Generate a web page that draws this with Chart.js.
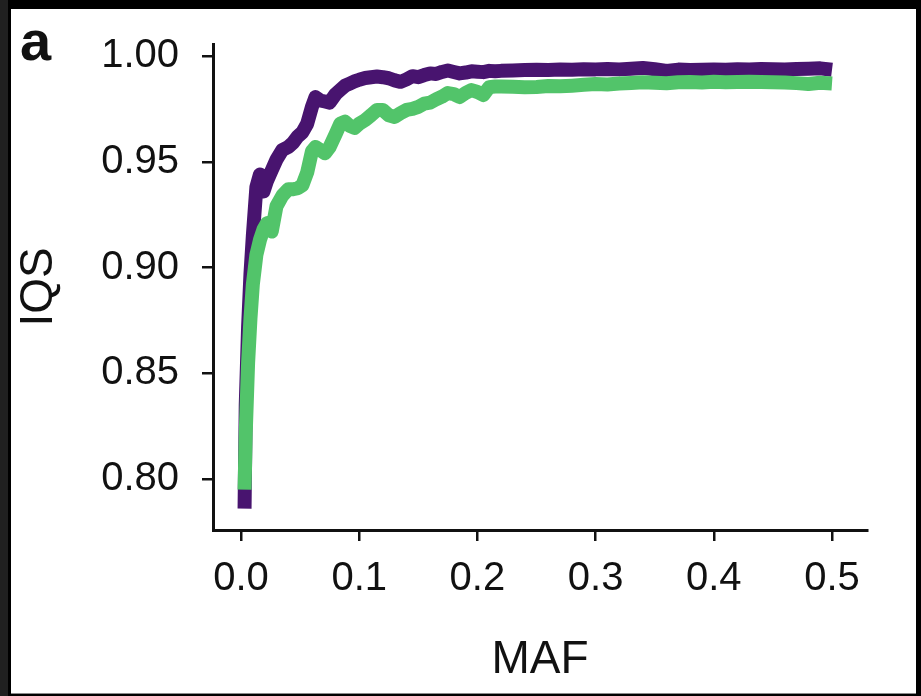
<!DOCTYPE html>
<html>
<head>
<meta charset="utf-8">
<script src="https://cdn.jsdelivr.net/npm/chart.js@4.4.1/dist/chart.umd.min.js"></script>
<style>
  html, body { margin: 0; padding: 0; }
  body { width: 921px; height: 696px; background: #000; position: relative; overflow: hidden; }
  #edge { position: absolute; left: 0; top: 0; width: 8px; height: 696px; background: #202020; }
  #panel { position: absolute; left: 11px; top: 9px; width: 905px; height: 684px; background: #fff; border-bottom: 1px solid #8a8a8a; }
  #panel canvas { position: absolute; left: 0; top: 0; }
  #tag { position: absolute; left: 9px; top: 4px; font: bold 56px "Liberation Sans", Arial, sans-serif; line-height: 1; color: #111; }
</style>
</head>
<body>
<div id="edge"></div>
<div id="panel">
  <canvas id="myChart" width="905" height="684"></canvas>
  <div id="tag">a</div>
</div>
<script>
// minor allele frequency bins
const maf = [
  0.003, 0.004, 0.006, 0.008, 0.010, 0.013, 0.016, 0.019, 0.022, 0.026,
  0.030, 0.035, 0.040, 0.044, 0.048, 0.052, 0.056, 0.060, 0.063, 0.067,
  0.071, 0.075, 0.080, 0.084, 0.088, 0.092, 0.096, 0.100, 0.105, 0.110,
  0.115, 0.120, 0.125, 0.130, 0.135, 0.140, 0.145, 0.150, 0.155, 0.160,
  0.165, 0.170, 0.175, 0.180, 0.185, 0.190, 0.195, 0.200, 0.205, 0.210,
  0.215, 0.220, 0.23, 0.24, 0.25, 0.26, 0.27, 0.28, 0.29, 0.30,
  0.31, 0.32, 0.33, 0.34, 0.35, 0.36, 0.37, 0.38, 0.39, 0.40,
  0.41, 0.42, 0.43, 0.44, 0.45, 0.46, 0.47, 0.48, 0.49, 0.50,
];

// purple curve (upper)
const iqsPurple = [
  0.786, 0.835, 0.872, 0.897, 0.915, 0.938, 0.944, 0.936, 0.941, 0.946,
  0.951, 0.9556, 0.957, 0.959, 0.962, 0.964, 0.968, 0.976, 0.9806, 0.979,
  0.9785, 0.978, 0.982, 0.984, 0.986, 0.987, 0.988, 0.9888, 0.9896, 0.990,
  0.9903, 0.990, 0.9895, 0.9885, 0.9878, 0.989, 0.9905, 0.990, 0.991, 0.9918,
  0.9915, 0.9925, 0.9932, 0.9925, 0.9918, 0.9922, 0.9928, 0.9926, 0.9924, 0.993,
  0.9928, 0.993, 0.9932, 0.9934, 0.9935, 0.9934, 0.9936, 0.9935, 0.9938, 0.9937,
  0.9939, 0.9937, 0.994, 0.9944, 0.9938, 0.993, 0.9936, 0.9934, 0.9935, 0.9937,
  0.9935, 0.9938, 0.9937, 0.9939, 0.9938, 0.9937, 0.9939, 0.994, 0.9942, 0.9935,
];

// green curve (lower)
const iqsGreen = [
  0.795, 0.822, 0.855, 0.876, 0.892, 0.906, 0.913, 0.918, 0.921, 0.917,
  0.929, 0.934, 0.937, 0.937, 0.9375, 0.939, 0.945, 0.955, 0.957, 0.9556,
  0.954, 0.957, 0.963, 0.968, 0.969, 0.967, 0.966, 0.968, 0.9697, 0.972,
  0.9745, 0.9745, 0.972, 0.9712, 0.973, 0.9745, 0.975, 0.976, 0.9775, 0.978,
  0.9795, 0.9808, 0.9825, 0.982, 0.9806, 0.9825, 0.9839, 0.983, 0.9816, 0.9853,
  0.9856, 0.9856, 0.9855, 0.9853, 0.9854, 0.9858, 0.9857, 0.986, 0.9864, 0.9868,
  0.9866, 0.987, 0.9873, 0.9876, 0.9874, 0.9871, 0.9876, 0.9877, 0.9875, 0.9878,
  0.9876, 0.9877, 0.9879, 0.9877, 0.9876, 0.9875, 0.9872, 0.9868, 0.9874, 0.987,
];

const xTicks = [0.0, 0.1, 0.2, 0.3, 0.4, 0.5];
const yTicks = [0.80, 0.85, 0.90, 0.95, 1.00];

const toPoints = (ys) => maf.map((x, i) => ({ x: x, y: ys[i] }));

const fontFamily = '"Liberation Sans", Arial, sans-serif';
const ink = "#111";

const lineStyle = {
  borderWidth: 14,
  pointRadius: 0,
  tension: 0,
  borderCapStyle: "butt",
  borderJoinStyle: "round",
  fill: false,
};

// keep the axes from reserving extra room for label overhang
const noOverhang = (scale) => {
  scale.paddingTop = 0;
  scale.paddingBottom = 0;
  scale.paddingLeft = 0;
  scale.paddingRight = 0;
};

const ctx = document.querySelector("#myChart").getContext("2d");

const iqsChart = new Chart(ctx, {
  type: "line",
  data: {
    datasets: [
      { label: "green", data: toPoints(iqsGreen), borderColor: "#52c46a", order: 0, ...lineStyle },
      { label: "purple", data: toPoints(iqsPurple), borderColor: "#48146f", order: 1, ...lineStyle },
    ],
  },
  options: {
    responsive: false,
    animation: false,
    layout: { padding: { left: 1, right: 49, top: 35, bottom: 1 } },
    plugins: { legend: { display: false }, tooltip: { enabled: false } },
    scales: {
      x: {
        type: "linear",
        min: -0.0237,
        max: 0.5296,
        afterBuildTicks: (scale) => { scale.ticks = xTicks.map((v) => ({ value: v })); },
        afterFit: (scale) => { scale.height = 162; noOverhang(scale); },
        grid: { drawOnChartArea: false, drawTicks: true, tickLength: 11, color: ink, lineWidth: 2.5 },
        border: { display: true, color: ink, width: 3 },
        ticks: {
          color: ink,
          padding: 14,
          maxRotation: 0,
          font: { family: fontFamily, size: 40 },
          callback: (v) => Number(v).toFixed(1),
        },
        title: {
          display: true,
          text: "MAF",
          color: ink,
          font: { family: fontFamily, size: 46 },
          padding: { top: 0, bottom: 4 },
        },
      },
      y: {
        min: 0.7759,
        max: 1.0057,
        afterBuildTicks: (scale) => { scale.ticks = yTicks.map((v) => ({ value: v })); },
        afterFit: (scale) => { scale.width = 201; noOverhang(scale); },
        grid: { drawOnChartArea: false, drawTicks: true, tickLength: 11, color: ink, lineWidth: 2.5 },
        border: { display: true, color: ink, width: 3 },
        ticks: {
          color: ink,
          padding: 23,
          font: { family: fontFamily, size: 40 },
          callback: (v) => Number(v).toFixed(2),
        },
        title: {
          display: true,
          text: "IQS",
          color: ink,
          font: { family: fontFamily, size: 46 },
          padding: { top: 0, bottom: 0 },
        },
      },
    },
  },
});
</script>
</body>
</html>
